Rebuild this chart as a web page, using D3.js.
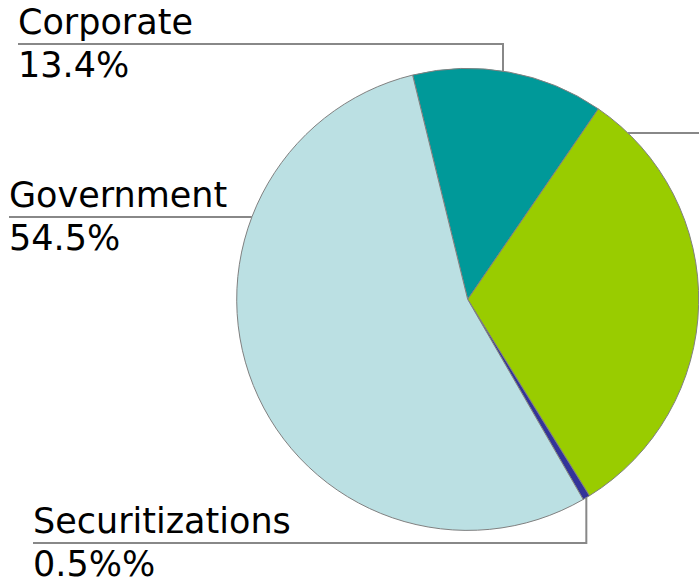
<!DOCTYPE html>
<html>
<head>
<meta charset="utf-8">
<script src="https://cdn.jsdelivr.net/npm/d3@7"></script>
<style>
  body { margin: 0; background: #fff; }
  svg { display: block; overflow: hidden; }
  text { font-family: 'DejaVu Sans', Verdana, sans-serif; font-size: 35px; fill: #000; }
</style>
</head>
<body>
<div id="chart"></div>
<script>
// slices in clockwise order, starting from the top-left edge of "Corporate"
const categories = ['Corporate', 'Other', 'Securitizations', 'Government'];
const shares = [13.4, 31.6, 0.5, 54.5];
const pctSuffix = ['%', '%', '%%', '%'];
const colors = ['#009999', '#99cc00', '#333399', '#bbe0e3'];

const width = 699;
const height = 583;
const cx = 467.7;
const cy = 299.4;
const radius = 231;
const startDeg = -13.8;

// label layout: text left x, leader y, optional elbow x (vertical drop to the pie)
// the "Other" label lies past the right edge of the picture, only its leader shows
const labelLayout = {
  Corporate: { x: 18, lineY: 44, elbowX: 503 },
  Other: { x: 712, lineY: 133, side: 'right', hidden: true },
  Securitizations: { x: 33, lineY: 543, elbowMid: true },
  Government: { x: 9, lineY: 217, side: 'left' },
};

const data = categories.map((c, i) => ({ name: c, value: shares[i], suffix: pctSuffix[i], color: colors[i] }));

const svg = d3.select('#chart')
  .append('svg')
  .attr('width', width)
  .attr('height', height);

const start = (startDeg * Math.PI) / 180;
const pie = d3.pie()
  .sort(null)
  .value((d) => d.value)
  .startAngle(start)
  .endAngle(start + 2 * Math.PI);

const arc = d3.arc().innerRadius(0).outerRadius(radius);
const arcs = pie(data);

const g = svg.append('g').attr('transform', `translate(${cx},${cy})`);

g.selectAll('path')
  .data(arcs)
  .join('path')
  .attr('d', arc)
  .attr('fill', (d) => d.data.color)
  .attr('stroke', '#808080')
  .attr('stroke-width', 1);

// leader lines + labels
arcs.forEach((a) => {
  const l = labelLayout[a.data.name];
  let path;
  if (l.elbowX !== undefined || l.elbowMid) {
    let ex;
    let ey;
    if (l.elbowMid) {
      const mid = (a.startAngle + a.endAngle) / 2;
      ex = cx + radius * Math.sin(mid);
      ey = cy - radius * Math.cos(mid);
    } else {
      ex = l.elbowX;
      const dy = Math.sqrt(radius * radius - (ex - cx) ** 2);
      ey = l.lineY < cy ? cy - dy : cy + dy;
    }
    path = `M${l.x},${l.lineY}H${ex}V${ey}`;
  } else {
    const dx = Math.sqrt(radius * radius - (l.lineY - cy) ** 2);
    const ex = l.side === 'left' ? cx - dx : cx + dx;
    path = `M${ex},${l.lineY}H${l.side === 'left' ? l.x : width + 40}`;
  }
  svg.append('path')
    .attr('d', path)
    .attr('fill', 'none')
    .attr('stroke', '#888888')
    .attr('stroke-width', 2);

  if (l.hidden) return;
  svg.append('text')
    .attr('x', l.x)
    .attr('y', l.lineY - 10)
    .text(a.data.name);
  svg.append('text')
    .attr('x', l.x)
    .attr('y', l.lineY + 33)
    .text(d3.format('.1f')(a.data.value) + a.data.suffix);
});
</script>
</body>
</html>
